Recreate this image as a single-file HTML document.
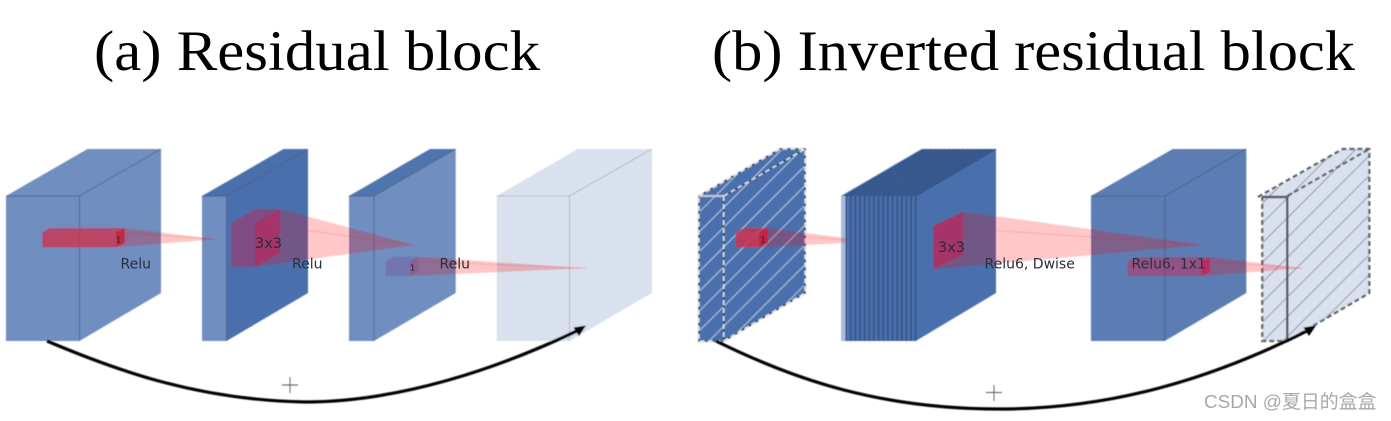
<!DOCTYPE html>
<html><head><meta charset="utf-8"><style>
html,body{margin:0;padding:0;background:#fff;width:1391px;height:421px;overflow:hidden}
svg{display:block}
.t{font-family:"Liberation Serif",serif;font-size:57.5px;fill:#050505}
.l{font-family:"DejaVu Sans",sans-serif;font-size:14px;fill:#2b2f3a}
.m{font-family:"DejaVu Sans",sans-serif;font-size:14.500px;fill:#2b2b3a}
.s{font-family:"DejaVu Sans",sans-serif;font-size:8px;fill:#222}
.e{stroke:#45597f;stroke-width:.9;stroke-opacity:.75;fill:none}
.c{fill:#f00;fill-opacity:.22}
.w{stroke:#f00;stroke-opacity:.2;stroke-width:.8;fill:none}
</style></head><body>
<svg width="1391" height="421" viewBox="0 0 1391 421" xmlns="http://www.w3.org/2000/svg">
<defs>
<filter id="b" x="-5%" y="-5%" width="110%" height="110%"><feGaussianBlur stdDeviation="0.45"/></filter>
<filter id="b2" x="-5%" y="-5%" width="110%" height="110%"><feGaussianBlur stdDeviation="0.35"/></filter>
<pattern id="hw" width="14" height="14" patternUnits="userSpaceOnUse" patternTransform="rotate(-45)"><rect width="14" height=".9" fill="#dfe6f2" opacity=".8"/></pattern>
<pattern id="hk" width="14" height="14" patternUnits="userSpaceOnUse" patternTransform="rotate(-45)"><rect width="14" height=".6" fill="#555a64"/></pattern>
</defs>
<rect width="1391" height="421" fill="#fff"/>
<g filter="url(#b2)">
<text class="t" x="94" y="70" textLength="446" lengthAdjust="spacingAndGlyphs">(a) Residual block</text>
<text class="t" x="712" y="70" textLength="643" lengthAdjust="spacingAndGlyphs">(b) Inverted residual block</text>
</g>
<g filter="url(#b)">
<!-- A -->
<path d="M6 196L87.500 149H161L79.500 196Z" fill="#6f8ebf"/>
<path d="M79.500 196L161 149V293L79.500 341Z" fill="#6f8ebf"/>
<rect x="6" y="196" width="73.500" height="145" fill="#6f8ebf"/>
<path class="e" d="M6 196H79.500L161 149M79.500 196V341"/>
<!-- B -->
<path d="M202 196L283.500 149H308L226.500 196Z" fill="#4a70ac"/>
<path d="M226.500 196L308 149V293L226.500 341Z" fill="#4a70ac"/>
<rect x="202" y="196" width="24.500" height="145" fill="#6f8ebf"/>
<path class="e" d="M202 196H226.500L308 149M226.500 196V341"/>
<!-- C -->
<path d="M349 196L430 149H455.700L374 196Z" fill="#4f74ae"/>
<path d="M374 196L455.700 149V293L374 341Z" fill="#6f8ebf"/>
<rect x="349" y="196" width="25" height="145" fill="#6f8ebf"/>
<path class="e" d="M349 196H374L455.700 149M374 196V341"/>
<!-- D -->
<path d="M496.700 196L577.700 149H652V293L569.500 341H496.700Z" fill="#dae1ee"/>
<path d="M496.700 196H569.500L652 149M569.500 196V341" stroke="#a9b0c2" stroke-width=".8" fill="none"/>
<!-- red a1 -->
<path class="c" d="M116 232.300L124.700 228L216.700 239.300L116 247.300Z"/>
<path class="w" d="M116 232.300L216.700 239.300"/>
<path d="M42.300 232.300L50 228H124.700L116 232.300Z" fill="#d0304c" fill-opacity=".72"/>
<rect x="42.300" y="232.300" width="73.700" height="15" fill="#d0304c" fill-opacity=".78"/>
<path d="M116 232.300L124.700 228V243L116 247.300Z" fill="#d01a38" fill-opacity=".85"/>
<!-- red a2 -->
<path class="c" d="M255 223.300L280 209L414 245L255 266.700Z"/>
<path class="w" d="M255 223.300L414 245"/>
<path d="M231 223.300L255 209H280L255 223.300Z" fill="#b8285a" fill-opacity=".5"/>
<rect x="231" y="223.300" width="24" height="43.400" fill="#b8285a" fill-opacity=".5"/>
<path d="M255 223.300L280 209V253L255 266.700Z" fill="#d01a50" fill-opacity=".55"/>
<!-- red a3 -->
<path class="c" d="M410 261L418.700 256.700L586 268.300L410 276Z"/>
<path class="w" d="M410 261L586 268.300"/>
<path d="M385.700 261L394 256.700H418.700L410 261Z" fill="#7a4a90" fill-opacity=".32"/>
<rect x="385.700" y="261" width="24.300" height="15" fill="#7a4a90" fill-opacity=".38"/>
<path d="M410 261L418.700 256.700V272L410 276Z" fill="#7a4a90" fill-opacity=".3"/>
<!-- b1 -->
<path d="M699 196L780 149H805L723.700 196Z" fill="#4a70ac"/>
<path d="M723.700 196L805 149V293L723.700 341Z" fill="#4a70ac"/>
<rect x="699" y="196" width="24.700" height="145" fill="#4a70ac"/>
<path d="M699 196L780 149H805V293L723.700 341H699Z" fill="url(#hw)"/>
<g fill="none" stroke-width="1.500">
<path d="M699 196L780 149H805V293L723.700 341H699Z M723.700 196L805 149M723.700 196V341" stroke="#2a3a58"/>
<path d="M699 196L780 149H805V293L723.700 341H699Z M723.700 196L805 149M723.700 196V341" stroke="#e6e8ec" stroke-dasharray="5 3"/>
</g>
<path d="M699 196H723.700" stroke="#c5cad2" stroke-width="2"/>
<!-- b2 -->
<path d="M841 196L921.700 149H996L915.700 196Z" fill="#3f659f"/>
<path d="M915.700 196L996 149V293L915.700 341Z" fill="#4a70ac"/>
<rect x="841" y="196" width="5" height="145" fill="#a9bbd8"/>
<rect x="846" y="196" width="69.700" height="145" fill="#4a70ac"/>
<g stroke="#2b4675" stroke-width="1.100">
<path d="M846 196V341M850.700 196V341M855.300 196V341M860 196V341M864.600 196V341M869.300 196V341M873.900 196V341M878.600 196V341M883.200 196V341M887.900 196V341M892.500 196V341M897.200 196V341M901.800 196V341M906.500 196V341M911.100 196V341M915.700 196V341"/>
</g>
<g stroke="#263f6c" stroke-width=".8">
<path d="M846 196L926.300 149M850.700 196L931 149M855.300 196L935.600 149M860 196L940.300 149M864.600 196L945 149M869.300 196L949.600 149M873.900 196L954.300 149M878.600 196L959 149M883.200 196L963.600 149M887.900 196L968.300 149M892.500 196L973 149M897.200 196L977.600 149M901.800 196L982.300 149M906.500 196L987 149M911.100 196L991.500 149M915.700 196L996 149"/>
</g>
<!-- b3 -->
<path d="M1091 196L1172.700 149H1246.300V293L1164.700 341H1091Z" fill="#5b7db3"/>
<path class="e" d="M1091 196H1164.700L1246.300 149M1164.700 196V341"/>
<!-- b4 -->
<path d="M1262.300 196L1342.700 149H1369.300V293L1287.300 341H1262.300Z" fill="#dae1ee"/>
<path d="M1262.300 196L1342.700 149H1369.300V293L1287.300 341H1262.300Z" fill="url(#hk)"/>
<path d="M1258 197L1342.700 149H1369.300V293L1287.300 341H1262.300V197" fill="none" stroke="#5a5e66" stroke-width="2.200" stroke-dasharray="5 3"/>
<path d="M1287.300 196L1369.300 149" fill="none" stroke="#5a5e66" stroke-width="2.200" stroke-dasharray="5 3"/>
<path d="M1262.300 197H1287.300V341" fill="none" stroke="#55585f" stroke-width="2.400"/>
<!-- red b1 -->
<path class="c" d="M759.300 232.300L768 228L845 238L845 243L759.300 247.300Z"/>
<path class="w" d="M759.300 232.300L845 240"/>
<path d="M735.700 232.300L744 228H768L759.300 232.300Z" fill="#d0304c" fill-opacity=".78"/>
<rect x="735.700" y="232.300" width="23.600" height="15" fill="#d0304c" fill-opacity=".85"/>
<path d="M759.300 232.300L768 228V243L759.300 247.300Z" fill="#d01a38" fill-opacity=".85"/>
<!-- red b2 -->
<path class="c" d="M933.300 226L963 211.700L1204.300 245L933.300 269.300Z"/>
<path class="w" d="M933.300 226L1204.300 245"/>
<path d="M933.300 226L963 211.700V255L933.300 269.300Z" fill="#d01a50" fill-opacity=".55"/>
<!-- red b3 -->
<path class="c" d="M1201.700 261L1210 257L1302.700 268.300L1201.700 276Z"/>
<path class="w" d="M1201.700 261L1302.700 268.300"/>
<rect x="1127.700" y="261" width="74" height="15" fill="#c03060" fill-opacity=".55"/>
<path d="M1127.700 261L1136 257H1210L1201.700 261Z" fill="#c03060" fill-opacity=".5"/>
<path d="M1201.700 261L1210 257V272L1201.700 276Z" fill="#d01a50" fill-opacity=".75"/>
<!-- arrows -->
<path d="M47 341C120 372 200 400 305 402C400 402 500 368 581 329" fill="none" stroke="#000" stroke-width="3.200"/>
<path d="M586 325.500L573.500 327.500L579 336Z" fill="#000"/>
<path d="M716 341C795 380 880 409 1000 409C1110 409 1210 380 1311 329" fill="none" stroke="#000" stroke-width="3.200"/>
<path d="M1316 325.500L1303.500 327.500L1309 336Z" fill="#000"/>
<path d="M282 385H298M290 377V393M986 392.500H1002M994 385V401" stroke="#555" stroke-width=".9" fill="none"/>
</g>
<g filter="url(#b2)">
<text class="l" x="120.500" y="268.500">Relu</text>
<text class="l" x="292" y="268.500">Relu</text>
<text class="l" x="439.500" y="268.500">Relu</text>
<text class="l" x="984.500" y="268.500">Relu6, Dwise</text>
<text class="l" x="1131.500" y="268.500">Relu6, 1x1</text>
<text class="m" x="255" y="248">3x3</text>
<text class="m" x="938" y="252">3x3</text>
<text class="s" x="116" y="242.500">1</text>
<text class="s" x="410" y="270.500">1</text>
<text class="s" x="760.500" y="242.500">1</text>
<text x="1204" y="408" font-family="'Liberation Sans','Noto Sans CJK SC',sans-serif" font-size="18.900px" fill="#a8a8a8">CSDN @夏日的盒盒</text>
</g>
</svg>
</body></html>
